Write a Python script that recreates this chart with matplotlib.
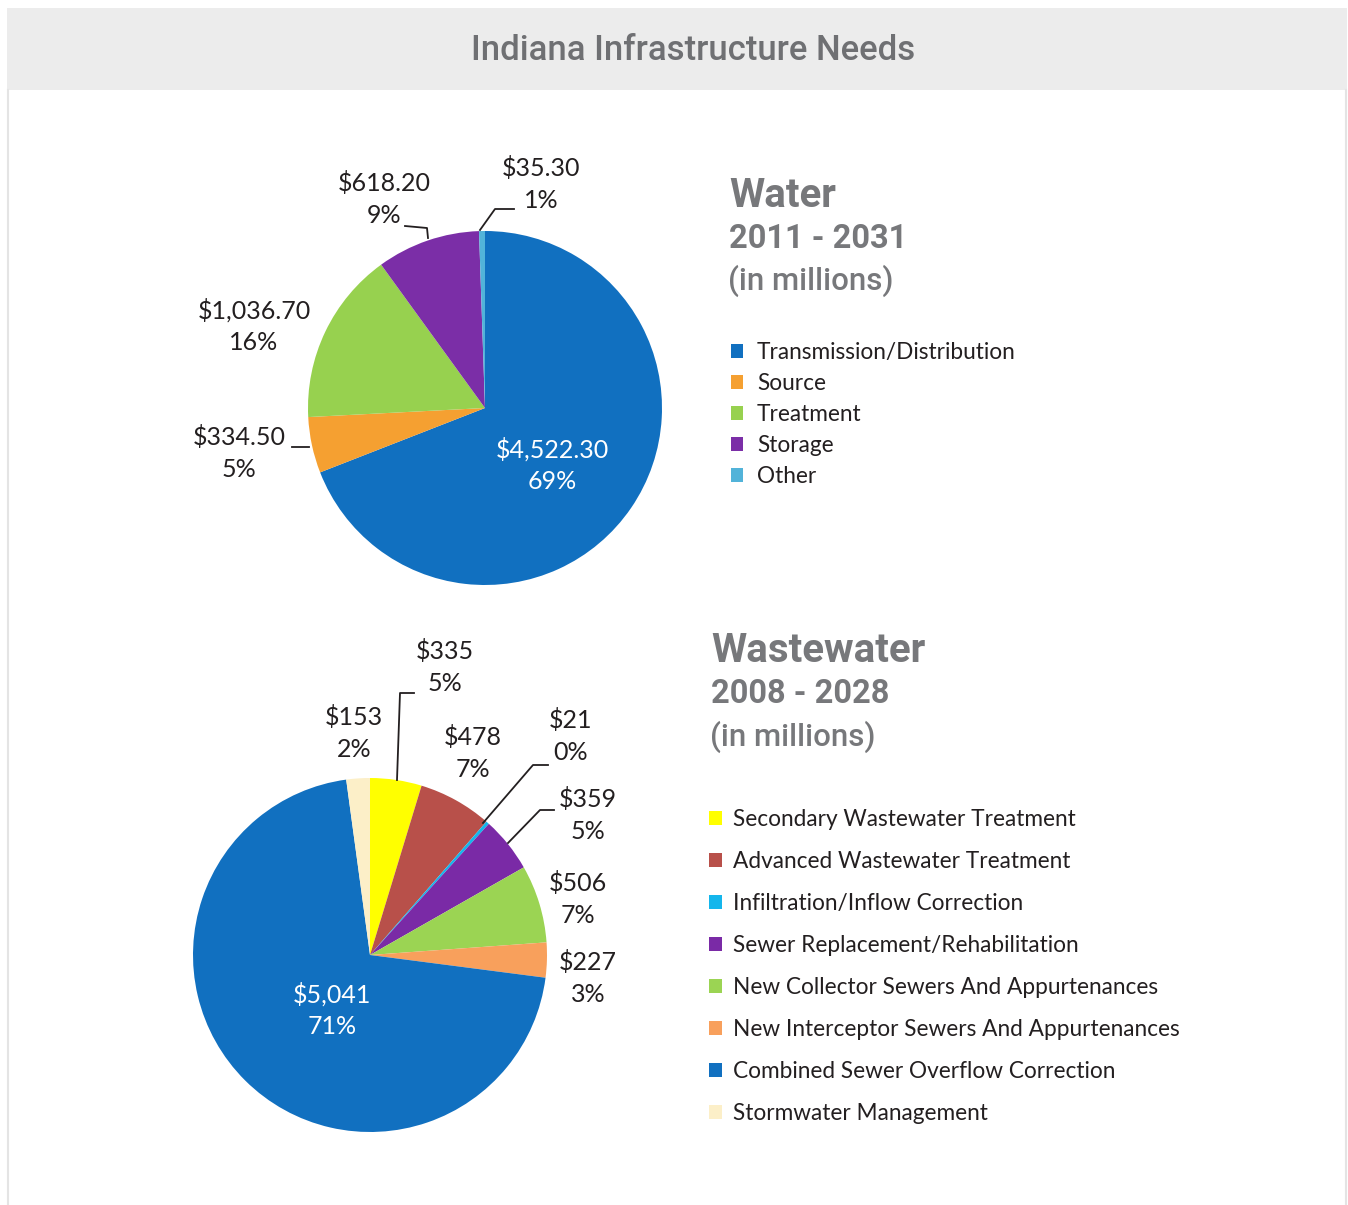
import matplotlib.pyplot as plt
from matplotlib.lines import Line2D
from matplotlib.patches import Rectangle

# Water, 2011 - 2031 (millions)
water_labels = ['Transmission/Distribution', 'Source', 'Treatment', 'Storage', 'Other']
water_values = [4522.30, 334.50, 1036.70, 618.20, 35.30]
water_pct = ['69%', '5%', '16%', '9%', '1%']
water_colors = ['#1170c0', '#f5a031', '#97d14f', '#7b2ea7', '#52b3d9']

# Wastewater, 2008 - 2028 (millions)
ww_labels = ['Secondary Wastewater Treatment', 'Advanced Wastewater Treatment',
             'Infiltration/Inflow Correction', 'Sewer Replacement/Rehabilitation',
             'New Collector Sewers And Appurtenances', 'New Interceptor Sewers And Appurtenances',
             'Combined Sewer Overflow Correction', 'Stormwater Management']
ww_values = [335, 478, 21, 359, 506, 227, 5041, 153]
ww_pct = ['5%', '7%', '0%', '5%', '7%', '3%', '71%', '2%']
ww_colors = ['#ffff00', '#b8504a', '#14b6ec', '#7a2aa6', '#9bd453', '#f8a05c', '#1170c0', '#fcefc8']

W, H = 1348, 1205
fig = plt.figure(figsize=(W / 100, H / 100), dpi=100)
fig.patch.set_facecolor('white')

def fx(x):
    return x / W

def fy(y):
    return 1 - y / H

# frame and title bar
fig.add_artist(Rectangle((fx(7), fy(90)), fx(1340), 82 / H, transform=fig.transFigure,
                         facecolor='#ececec', edgecolor='none'))
for xb in (8, 1346):
    fig.add_artist(Line2D([fx(xb), fx(xb)], [fy(90), fy(1205)], transform=fig.transFigure,
                          color='#e4e4e4', lw=1.5))
fig.text(fx(693), fy(51), 'Indiana Infrastructure Needs', ha='center', va='center',
         fontsize=25, color='#6f7073', family='Roboto', weight='medium')

lab_font = dict(family='Lato', fontsize=18, color='#231f20', ha='center', va='center',
                linespacing=1.45)
head = dict(family='Roboto', color='#77787b', ha='left', va='center')


def pie_axes(cx, cy, r):
    ax = fig.add_axes([fx(cx - r), fy(cy + r), 2 * r / W, 2 * r / H])
    ax.axis('off')
    return ax


def leader(pts):
    xs = [fx(p[0]) for p in pts]
    ys = [fy(p[1]) for p in pts]
    fig.add_artist(Line2D(xs, ys, transform=fig.transFigure, color='#231f20', lw=1.3))


def fmt_water(v):
    return '${:,.2f}'.format(v)


def fmt_ww(v):
    return '${:,.0f}'.format(v)


# ---- Water pie ----
ax1 = pie_axes(485, 408, 177)
w1, _ = ax1.pie(water_values, colors=water_colors, startangle=90, counterclock=False,
                radius=1, wedgeprops=dict(linewidth=0))
ax1.set_xlim(-1, 1)
ax1.set_ylim(-1, 1)

water_pos = [(552, 465), (239, 453), (254, 326), (384, 199), (541, 184)]
for i, (x, y) in enumerate(water_pos):
    col = 'white' if i == 0 else '#231f20'
    fig.text(fx(x), fy(y), fmt_water(water_values[i]) + '\n' + water_pct[i],
             **{**lab_font, 'color': col})
leader([(292, 447), (309, 447)])
leader([(405, 226), (427, 228), (428, 238)])
leader([(514, 209), (495, 209), (480, 230)])

fig.text(fx(729), fy(196), 'Water', fontsize=29, weight='bold', **head)
fig.text(fx(729), fy(239), '2011 - 2031', fontsize=23.5, weight='bold', **head)
fig.text(fx(728), fy(281), '(in millions)', fontsize=22.5, weight='medium', **head)
fig.legend(w1, water_labels, loc='upper left', bbox_to_anchor=(fx(731), fy(342)),
           frameon=False, prop=dict(family='Lato', size=16.3), labelcolor='#231f20',
           handlelength=0.55, handleheight=0.55, handletextpad=0.6,
           labelspacing=0.44, borderaxespad=0, borderpad=0)

# ---- Wastewater pie ----
ax2 = pie_axes(370, 955, 177)
w2, _ = ax2.pie(ww_values, colors=ww_colors, startangle=90, counterclock=False,
                radius=1, wedgeprops=dict(linewidth=0))
ax2.set_xlim(-1, 1)
ax2.set_ylim(-1, 1)

ww_pos = [(445, 667), (473, 753), (571, 736), (588, 815), (578, 899), (588, 978),
          (332, 1010), (354, 733)]
for i, (x, y) in enumerate(ww_pos):
    col = 'white' if i == 6 else '#231f20'
    fig.text(fx(x), fy(y), fmt_ww(ww_values[i]) + '\n' + ww_pct[i],
             **{**lab_font, 'color': col})
leader([(414, 693), (400, 693), (397, 780)])
leader([(548, 765), (533, 765), (483, 823)])
leader([(554, 810), (540, 810), (508, 843)])

fig.text(fx(711), fy(651), 'Wastewater', fontsize=29, weight='bold', **head)
fig.text(fx(711), fy(694), '2008 - 2028', fontsize=23.5, weight='bold', **head)
fig.text(fx(710), fy(737), '(in millions)', fontsize=22.5, weight='medium', **head)
fig.legend(w2, ww_labels, loc='upper left', bbox_to_anchor=(fx(709), fy(809)),
           frameon=False, prop=dict(family='Lato', size=16.3), labelcolor='#231f20',
           handlelength=0.58, handleheight=0.58, handletextpad=0.49,
           labelspacing=0.93, borderaxespad=0, borderpad=0)

fig.savefig('out.png', dpi=100)
